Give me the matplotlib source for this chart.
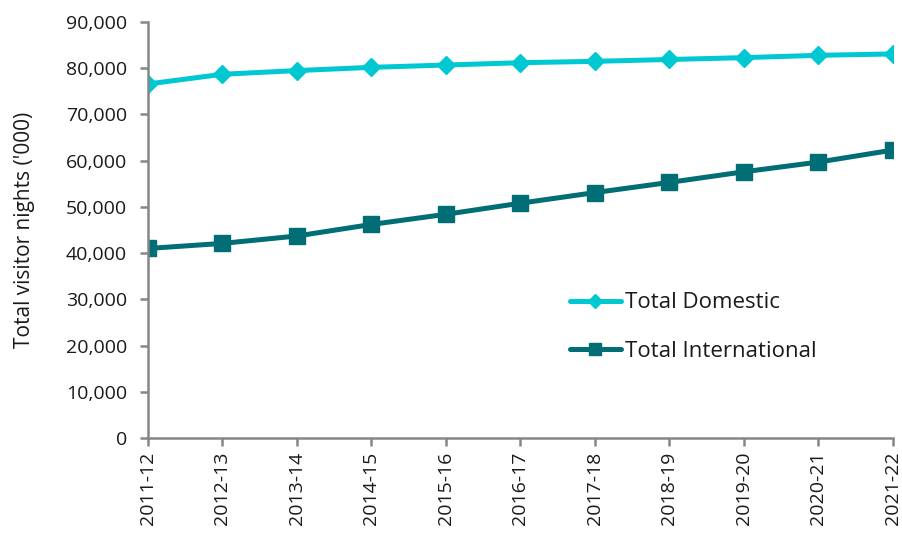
import matplotlib
matplotlib.use("Agg")
import matplotlib.pyplot as plt
from matplotlib.ticker import FuncFormatter, MultipleLocator

years = ["2011-12", "2012-13", "2013-14", "2014-15", "2015-16", "2016-17",
         "2017-18", "2018-19", "2019-20", "2020-21", "2021-22"]
domestic = [76600, 78700, 79500, 80200, 80700, 81200, 81500, 81900, 82300, 82800, 83100]
international = [41000, 42100, 43700, 46200, 48400, 50800, 53100, 55300, 57600, 59700, 62300]

plt.rcParams["font.family"] = ["Open Sans", "DejaVu Sans"]
text_color = "#1a1a1a"
axis_color = "#868686"

fig = plt.figure(figsize=(9.02, 5.38), dpi=100)
ax = fig.add_axes([0.164, 0.186, 0.826, 0.773])

x = list(range(len(years)))
ax.plot(x, domestic, color="#00C8D3", lw=3.6, marker="D", ms=9,
        label="Total Domestic", solid_capstyle="round")
ax.plot(x, international, color="#006E74", lw=3.6, marker="s", ms=11,
        label="Total International", solid_capstyle="round")

ax.set_xlim(0, len(years) - 1)
ax.set_ylim(0, 90000)
ax.yaxis.set_major_locator(MultipleLocator(10000))
ax.yaxis.set_major_formatter(FuncFormatter(lambda v, p: f"{int(v):,}"))
ax.set_xticks(x)
ax.set_xticklabels(years, rotation=90)

for side in ("top", "right"):
    ax.spines[side].set_visible(False)
for side in ("left", "bottom"):
    ax.spines[side].set_color(axis_color)
    ax.spines[side].set_linewidth(1.8)
ax.tick_params(axis="both", colors=axis_color, width=1.8, length=6,
               labelcolor=text_color, labelsize=14)
ax.tick_params(axis="y", pad=9)
ax.tick_params(axis="x", pad=4)
ax.set_ylabel("Total visitor nights ('000)", fontsize=15, color=text_color, labelpad=22)

leg = ax.legend(loc="upper left", bbox_to_anchor=(0.566, 0.35), frameon=False,
                fontsize=16, handlelength=2.3, handletextpad=0.2,
                labelspacing=1.23, markerscale=0.75, borderpad=0, borderaxespad=0)
for t in leg.get_texts():
    t.set_color(text_color)

fig.savefig("out.png", dpi=100)
